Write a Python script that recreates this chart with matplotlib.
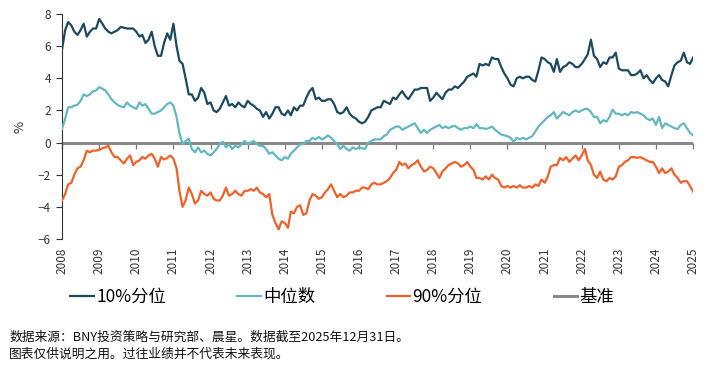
import numpy as np
import pandas as pd
import matplotlib
matplotlib.use("Agg")
import matplotlib.pyplot as plt

plt.rcParams['font.family'] = ['Noto Sans CJK SC', 'DejaVu Sans']

# 月度数据 2008-01 至 2025-01
dates = pd.date_range('2008-01-01', periods=205, freq='MS')

p10 = [
    5.8, 7.0, 7.5, 7.3, 6.9, 6.7, 7.0, 7.4, 6.6, 6.9, 7.1, 7.1,   # 2008
    7.7, 7.4, 7.1, 6.9, 6.8, 6.9, 7.0, 7.2, 7.15, 7.1, 7.1, 7.1,  # 2009
    6.9, 6.6, 6.7, 6.2, 6.4, 6.9, 6.0, 5.4, 5.4, 6.2, 6.8, 6.4,   # 2010
    7.4, 6.0, 5.1, 4.9, 4.0, 3.0, 3.0, 2.6, 2.8, 3.4, 3.1, 2.4,   # 2011
    2.5, 2.0, 1.9, 2.1, 2.5, 2.9, 2.3, 2.4, 2.2, 2.5, 2.3, 2.2,   # 2012
    2.6, 2.4, 2.3, 2.1, 2.0, 1.6, 1.9, 1.5, 1.8, 2.2, 2.2, 1.8,   # 2013
    1.7, 2.0, 1.7, 2.2, 2.0, 2.3, 2.3, 2.8, 3.2, 3.4, 2.7, 2.8,   # 2014
    2.6, 2.6, 2.7, 2.7, 2.4, 1.9, 1.8, 1.9, 2.2, 1.8, 1.6, 1.5,   # 2015
    1.3, 1.2, 1.3, 1.6, 2.0, 2.1, 2.2, 2.2, 2.6, 2.5, 2.4, 2.8,   # 2016
    2.7, 3.0, 3.2, 2.9, 2.7, 3.0, 3.3, 3.3, 3.4, 3.4, 3.4, 2.6,   # 2017
    2.8, 3.1, 2.9, 2.7, 3.1, 3.3, 3.3, 3.5, 3.4, 3.6, 3.8, 4.1,   # 2018
    4.2, 4.3, 4.1, 4.9, 4.8, 4.9, 4.8, 5.3, 5.2, 5.2, 4.7, 4.3,   # 2019
    4.0, 3.6, 3.5, 4.0, 4.1, 4.0, 4.1, 4.1, 3.9, 3.8, 4.5, 5.3,   # 2020
    5.2, 5.0, 4.9, 4.4, 5.2, 4.4, 4.7, 4.8, 5.0, 4.9, 4.7, 4.7,   # 2021
    4.9, 5.2, 5.5, 6.4, 5.4, 5.2, 4.7, 5.0, 4.9, 5.3, 5.3, 5.6,   # 2022
    4.6, 4.5, 4.5, 4.5, 4.2, 4.2, 4.3, 4.5, 4.0, 4.2, 3.9, 3.7,   # 2023
    4.0, 4.2, 3.9, 3.8, 3.5, 4.2, 4.8, 5.0, 5.1, 5.6, 5.0, 4.9,   # 2024
    5.3,                                                          # 2025
]

median = [
    0.85, 1.5, 2.2, 2.2, 2.3, 2.35, 2.6, 3.0, 2.9, 3.0, 3.2, 3.25,      # 2008
    3.45, 3.35, 3.25, 3.0, 2.7, 2.5, 2.35, 2.25, 2.2, 2.5, 2.3, 2.2,    # 2009
    2.1, 2.5, 2.3, 2.4, 2.1, 1.8, 1.8, 1.9, 2.0, 2.2, 2.4, 2.5,         # 2010
    2.3, 1.6, 0.6, -0.1, 0.1, 0.25, -0.4, -0.6, -0.3, -0.6, -0.5, -0.7, # 2011
    -0.8, -0.6, -0.4, -0.1, 0.05, -0.3, -0.1, -0.4, -0.2, -0.3, -0.1, 0.1,  # 2012
    -0.1, 0.0, 0.1, -0.1, -0.2, -0.2, -0.4, -0.7, -0.6, -0.8, -1.0, -1.1,  # 2013
    -0.9, -1.0, -0.7, -0.5, -0.3, -0.1, -0.1, 0.1, 0.1, 0.3, 0.2, 0.35,    # 2014
    0.2, 0.3, 0.45, 0.3, 0.1, -0.1, -0.4, -0.2, -0.4, -0.5, -0.3, -0.4,    # 2015
    -0.3, -0.35, -0.4, 0.0, 0.1, 0.2, 0.2, 0.2, 0.4, 0.5, 0.8, 0.9,        # 2016
    1.0, 1.0, 0.8, 0.9, 1.0, 1.1, 1.2, 0.9, 0.6, 0.8, 0.6, 0.8,            # 2017
    0.9, 1.0, 1.1, 0.9, 1.0, 0.9, 1.0, 1.05, 0.9, 0.8, 0.9, 0.9,           # 2018
    1.0, 0.9, 1.15, 0.9, 0.9, 0.85, 0.9, 1.0, 0.8, 0.65, 0.5, 0.45,        # 2019
    0.4, 0.3, 0.05, 0.3, 0.2, 0.3, 0.2, 0.3, 0.4, 0.7, 1.0, 1.2,           # 2020
    1.4, 1.6, 1.7, 1.9, 1.5, 1.7, 1.9, 1.8, 1.7, 1.9, 2.0, 1.9,            # 2021
    2.0, 2.1, 2.1, 1.9, 1.6, 1.6, 1.2, 1.4, 1.3, 1.6, 2.05, 1.8,           # 2022
    1.8, 1.7, 1.8, 1.7, 1.9, 1.85, 1.9, 1.8, 1.7, 1.5, 1.4, 1.5,           # 2023
    1.1, 1.6, 0.9, 1.2, 1.1, 1.0, 0.9, 0.85, 1.1, 1.2, 0.9, 0.6,           # 2024
    0.45,                                                                  # 2025
]

p90 = [
    -3.6, -3.2, -2.6, -2.5, -2.0, -1.6, -1.5, -1.1, -0.5, -0.6, -0.5, -0.5,    # 2008
    -0.45, -0.35, -0.3, -0.2, -0.6, -0.9, -0.9, -1.1, -1.3, -1.0, -0.8, -1.4,  # 2009
    -1.2, -1.1, -0.9, -1.0, -0.8, -0.7, -1.0, -1.5, -0.9, -1.05, -0.95, -0.8,  # 2010
    -1.0, -1.6, -3.0, -4.0, -3.6, -2.8, -3.2, -3.8, -3.6, -3.0, -3.2, -3.3,    # 2011
    -3.1, -3.5, -3.6, -3.6, -3.3, -2.8, -3.3, -3.2, -3.0, -3.2, -3.3, -3.0,    # 2012
    -3.0, -2.9, -3.0, -2.8, -3.1, -3.2, -3.4, -3.2, -4.5, -5.0, -5.4, -4.9,    # 2013
    -5.0, -5.3, -4.3, -4.4, -4.0, -3.9, -4.5, -4.4, -3.6, -3.2, -3.3, -3.5,    # 2014
    -3.4, -3.1, -2.9, -2.6, -3.0, -3.4, -3.2, -3.4, -3.3, -3.1, -3.1, -3.0,    # 2015
    -3.0, -2.8, -2.8, -2.9, -2.6, -2.5, -2.6, -2.6, -2.5, -2.4, -2.2, -1.9,    # 2016
    -1.7, -1.2, -1.4, -1.3, -1.6, -1.4, -1.3, -1.1, -1.5, -1.8, -1.7, -1.5,    # 2017
    -1.6, -1.9, -2.2, -1.8, -1.6, -1.4, -1.3, -1.2, -1.3, -1.5, -1.4, -1.2,    # 2018
    -1.5, -1.7, -2.2, -2.2, -2.3, -2.1, -2.3, -2.0, -2.2, -2.3, -2.7, -2.8,    # 2019
    -2.7, -2.8, -2.7, -2.8, -2.65, -2.8, -2.8, -2.7, -2.8, -2.6, -2.7, -2.3,   # 2020
    -2.5, -2.1, -1.5, -1.4, -1.4, -0.95, -1.1, -0.9, -1.2, -1.0, -0.8, -1.1,   # 2021
    -0.8, -0.4, -1.1, -1.4, -2.0, -2.2, -1.8, -2.3, -2.4, -2.2, -2.3, -2.1,    # 2022
    -1.5, -1.4, -1.2, -1.1, -0.9, -0.9, -0.95, -0.9, -1.0, -1.1, -1.2, -1.2,   # 2023
    -1.5, -1.9, -1.6, -1.9, -1.8, -1.6, -2.0, -2.2, -2.5, -2.4, -2.4, -2.7,    # 2024
    -3.05,                                                                     # 2025
]

baseline = [0.0] * len(dates)

labels = ['10%分位', '中位数', '90%分位', '基准']
colors = ['#1b4a5e', '#63b8c0', '#f0612a', '#8a8a8a']
years = list(range(2008, 2026))

fig = plt.figure(figsize=(7.18, 3.80), dpi=100)
ax = fig.add_axes([0.0864, 0.371, 0.879, 0.592])

ax.plot(dates, baseline, color=colors[3], lw=2.2, label=labels[3], zorder=1)
ax.plot(dates, p10, color=colors[0], lw=1.6, label=labels[0], zorder=3)
ax.plot(dates, median, color=colors[1], lw=1.6, label=labels[1], zorder=3)
ax.plot(dates, p90, color=colors[2], lw=1.6, label=labels[2], zorder=3)

ymin, ymax = -6, 8
ax.set_ylim(ymin, ymax)
ax.set_xlim(dates[0], dates[-1])
ax.set_yticks(range(-6, 9, 2))
ax.tick_params(axis='y', labelsize=8.5, labelcolor='#333333', color='#333333',
               length=4, width=0.8, pad=4)

year_ticks = pd.to_datetime([f'{y}-01-01' for y in years])
ax.set_xticks(year_ticks)
ax.set_xticklabels([str(y) for y in years], rotation=90, fontsize=8.5, color='#333333')
ax.tick_params(axis='x', length=0, pad=6)

for s in ['top', 'right', 'bottom']:
    ax.spines[s].set_visible(False)
ax.spines['left'].set_color('#333333')
ax.spines['left'].set_linewidth(0.8)

# 零线上的年份刻度
loc0 = (0 - ymin) / (ymax - ymin)
sec = ax.secondary_xaxis(loc0)
sec.set_xticks(year_ticks)
sec.set_xticklabels([])
sec.tick_params(axis='x', length=4, width=0.9, color='#777777', direction='out')
sec.spines['bottom'].set_visible(False)
sec.spines['top'].set_visible(False)

ax.set_ylabel('%', fontsize=9.5, color='#333333', labelpad=8)

handles, labs = ax.get_legend_handles_labels()
order = [1, 2, 3, 0]
fig.legend([handles[i] for i in order], [labs[i] for i in order],
           loc='center left', bbox_to_anchor=(0.088, 0.218), ncol=4, frameon=False,
           fontsize=12.5, handlelength=1.35, handletextpad=0.15, columnspacing=4.1,
           borderaxespad=0)

fig.text(0.013, 0.113, '数据来源：BNY投资策略与研究部、晨星。数据截至2025年12月31日。',
         fontsize=9.2, color='#111111', va='center')
fig.text(0.013, 0.069, '图表仅供说明之用。过往业绩并不代表未来表现。',
         fontsize=9.2, color='#111111', va='center')

fig.savefig('out.png', dpi=100)
